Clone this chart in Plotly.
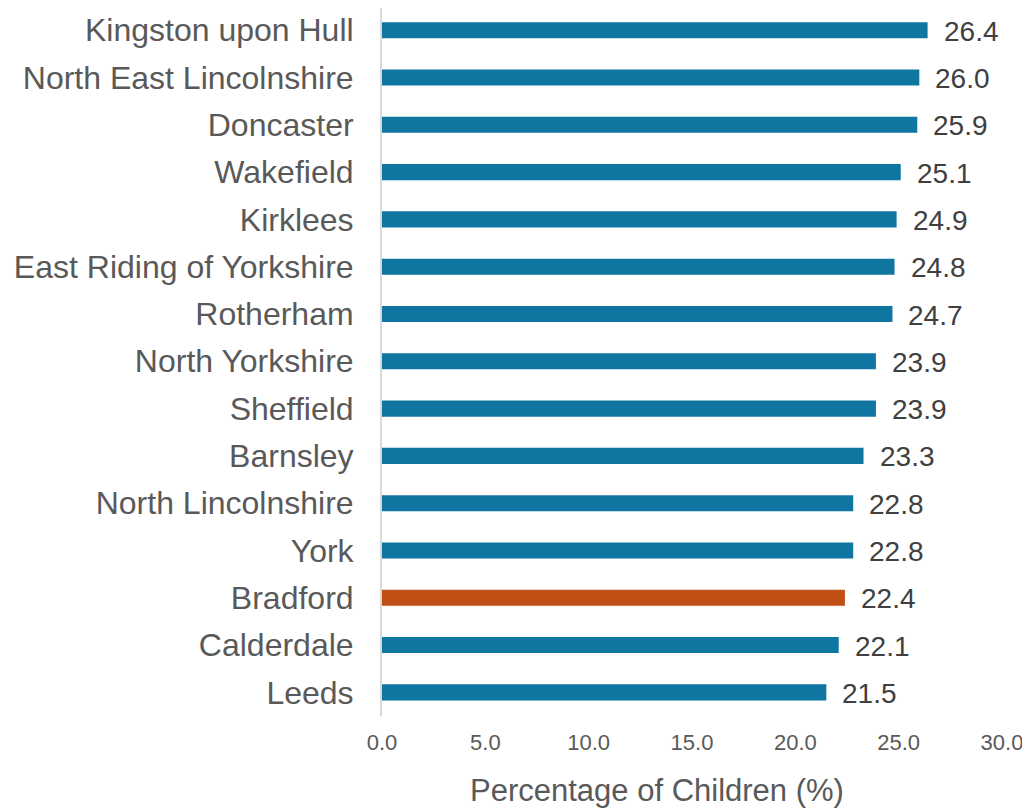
import plotly.graph_objects as go

categories = ["Kingston upon Hull", "North East Lincolnshire", "Doncaster", "Wakefield",
              "Kirklees", "East Riding of Yorkshire", "Rotherham", "North Yorkshire",
              "Sheffield", "Barnsley", "North Lincolnshire", "York", "Bradford",
              "Calderdale", "Leeds"]
values = [26.4, 26.0, 25.9, 25.1, 24.9, 24.8, 24.7, 23.9, 23.9, 23.3, 22.8, 22.8, 22.4, 22.1, 21.5]
highlight = "Bradford"
tick_vals = [0, 5, 10, 15, 20, 25, 30]
tick_text = ["0.0", "5.0", "10.0", "15.0", "20.0", "25.0", "30.0"]
x_title = "Percentage of Children (%)"

colors = ["#C04F15" if c == highlight else "#0E76A0" for c in categories]
FONT = "Liberation Sans, Arial"

fig = go.Figure(go.Bar(
    x=values, y=categories, orientation="h",
    marker=dict(color=colors, line=dict(width=0)),
    width=0.34,
))

for c, v in zip(categories, values):
    fig.add_annotation(x=v, y=c, text=f"{v:.1f}", showarrow=False,
                       xanchor="left", yanchor="middle", xshift=14, yshift=-1,
                       font=dict(family=FONT, size=28, color="#404040"))

fig.add_annotation(text=x_title, xref="paper", yref="paper", x=0.4435, y=-0.105,
                   xanchor="center", yanchor="middle", showarrow=False,
                   font=dict(family=FONT, size=31, color="#595959"))

fig.update_layout(
    width=1030, height=809,
    margin=dict(l=374, r=36, t=0, b=101, autoexpand=False),
    plot_bgcolor="white", paper_bgcolor="white",
    showlegend=False,
    font=dict(family=FONT, color="#595959"),
    xaxis=dict(range=[0, 30], tickvals=tick_vals, ticktext=tick_text,
               showgrid=False, zeroline=False, showline=False, automargin=False,
               tickfont=dict(size=22, color="#595959"), ticks="", ticklabelstandoff=11),
    yaxis=dict(range=[14.5, -0.47], showgrid=False, zeroline=False, automargin=False,
               showline=True, linecolor="#D9D9D9", linewidth=2,
               tickfont=dict(size=32, color="#595959"), ticks="", ticklabelstandoff=20),
)

fig.write_html("out.html")
